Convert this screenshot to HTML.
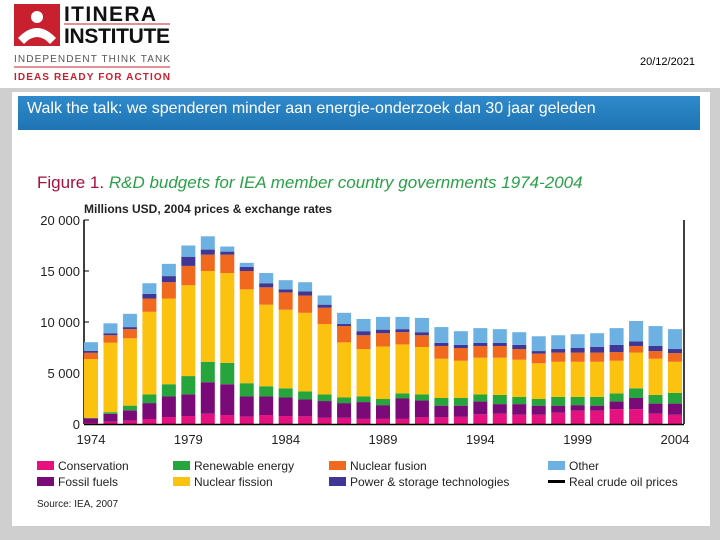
<!DOCTYPE html>
<html><head><meta charset="utf-8"><style>
body{margin:0;width:720px;height:540px;background:#fff;position:relative;overflow:hidden;font-family:"Liberation Sans",sans-serif}
.abs{position:absolute}
</style></head><body>
<div class="abs" style="left:12px;top:0;width:165px;height:82px">
 <svg width="165" height="82">
  <rect x="2" y="4" width="46" height="42" fill="#c9202f"/>
  <circle cx="25" cy="17" r="6" fill="#fff"/>
  <path d="M6 38 Q25 18 44 38 L38 44 Q25 30 12 44 Z" fill="#fff"/>
  <text x="52" y="21" font-size="21" font-weight="bold" font-family="Liberation Sans" fill="#111" textLength="92">ITINERA</text>
  <text x="52" y="43" font-size="21" font-weight="bold" font-family="Liberation Sans" fill="#111" textLength="106">INSTITUTE</text>
  <line x1="52" y1="24" x2="158" y2="24" stroke="#c9202f" stroke-width="1"/>
  <text x="2" y="62" font-size="10" fill="#555" textLength="156">INDEPENDENT THINK TANK</text>
  <line x1="2" y1="67" x2="158" y2="67" stroke="#c9202f"/>
  <text x="2" y="80" font-size="10" font-weight="bold" fill="#c9202f" textLength="156">IDEAS READY FOR ACTION</text>
 </svg>
</div>
<div class="abs" style="left:640px;top:56px;font-size:11px;color:#000">20/12/2021</div>
<div class="abs" style="left:0;top:88px;width:720px;height:452px;background:#cfcfcf"></div>
<div class="abs" style="left:12px;top:92px;width:698px;height:434px;background:#fff"></div>
<div class="abs" style="left:18px;top:96px;width:682px;height:34px;background:linear-gradient(#2f8acb,#1f74b3);color:#fff;font-size:16px;line-height:26px;padding-left:9px;box-sizing:border-box">Walk the talk: we spenderen minder aan energie-onderzoek dan 30 jaar geleden</div>
<div class="abs" style="left:37px;top:173px;font-size:17px;white-space:nowrap"><span style="color:#a3123a">Figure 1.</span> <i style="color:#2aa048">R&amp;D budgets for IEA member country governments 1974-2004</i></div>
<div class="abs" style="left:84px;top:202px;font-size:12px;font-weight:bold;color:#222">Millions USD, 2004 prices &amp; exchange rates</div>
<svg class="abs" id="chart" style="left:0;top:0" width="720" height="540"></svg>
<div class="abs" style="left:37px;top:499px;font-size:10px;color:#222">Source: IEA, 2007</div>
<script>
const years=[1974,1975,1976,1977,1978,1979,1980,1981,1982,1983,1984,1985,1986,1987,1988,1989,1990,1991,1992,1993,1994,1995,1996,1997,1998,1999,2000,2001,2002,2003,2004];
const conservation=[100,220,330,490,680,780,1000,880,720,880,780,750,600,600,500,500,500,650,650,700,950,1000,900,900,1100,1300,1300,1450,1450,1000,900];
const fossil=[460,780,1010,1560,2020,2120,3100,3020,1980,1820,1820,1650,1650,1450,1650,1350,2000,1650,1150,1100,1250,950,1050,900,700,550,500,750,1100,1000,1100];
const renewable=[40,160,460,850,1200,1800,2000,2100,1300,1000,900,800,650,550,550,600,500,600,750,750,700,900,700,650,850,800,850,800,950,850,1050];
const fission=[5770,6810,6600,8100,8400,8900,8900,8800,9200,8000,7700,7700,6900,5400,4650,5150,4800,4650,3850,3650,3600,3650,3650,3500,3450,3450,3450,3200,3500,3550,3050];
const fusion=[610,730,900,1300,1600,1900,1600,1800,1800,1700,1700,1700,1600,1600,1350,1300,1200,1150,1250,1250,1150,1150,1050,950,900,900,900,850,650,750,850];
const power=[190,200,200,450,600,900,500,300,400,400,300,400,300,200,400,350,300,300,300,300,300,300,400,250,350,450,550,700,450,500,400];
const other=[850,970,1300,1050,1200,1100,1300,500,400,1000,900,900,900,1100,1200,1250,1200,1400,1550,1350,1450,1350,1250,1450,1350,1350,1350,1650,2000,1950,1950];
const yTicks=[0,5000,10000,15000,20000];
const yTickLabels=["0","5 000","10 000","15 000","20 000"];
const xTickYears=[1974,1979,1984,1989,1994,1999,2004];
const seriesNames=["Conservation","Fossil fuels","Renewable energy","Nuclear fission","Nuclear fusion","Power & storage technologies","Other"];
const NS="http://www.w3.org/2000/svg";
const svg=document.getElementById('chart');
function y(v){return 424-v*(204/20000);}
function x(yr){return 91+(yr-1974)*(584/30);}
function mk(t,a,p){const e=document.createElementNS(NS,t);for(const k in a)e.setAttribute(k,a[k]);(p||svg).appendChild(e);return e;}
const series=[conservation,fossil,renewable,fission,fusion,power,other];
const colors=["#e5117e","#7a0a78","#27a53d","#fcc210","#f1681f","#3f3696","#6cb1e1"];
const keys=["conservation","fossil-fuels","renewable-energy","nuclear-fission","nuclear-fusion","power-storage","other"];
let ax=mk('line',{x1:84,y1:220,x2:84,y2:424,stroke:'#000','stroke-width':1.5});


let rx=mk('line',{x1:684,y1:220,x2:684,y2:424,stroke:'#000','stroke-width':1.5});


yTicks.forEach((v,i)=>{
 const tk=mk('line',{x1:84,x2:89,y1:y(v),y2:y(v),stroke:'#000'});
 
 
 const t=mk('text',{x:80,y:y(v)+5,'text-anchor':'end','font-size':13,fill:'#222','font-family':'Liberation Sans'});
 t.textContent=yTickLabels[i];
 
 
});
years.forEach((yr,i)=>{
 let c=0;
 series.forEach((s,k)=>{
  const r=mk('rect',{x:x(yr)-7,y:y(c+s[i]),width:14,height:y(c)-y(c+s[i]),fill:colors[k]});
  
  
  c+=s[i];
 });
});
let bx=mk('line',{x1:84,y1:424.5,x2:684,y2:424.5,stroke:'#000','stroke-width':1.5});


xTickYears.forEach(yr=>{
 const t=mk('text',{x:x(yr),y:444,'text-anchor':'middle','font-size':13,fill:'#222','font-family':'Liberation Sans'});
 t.textContent=yr;
 
 
});
const lx=[37,173,329,548];
const leg=[[0,1],[2,3],[4,5],[6,-1]];
leg.forEach((col,ci)=>{col.forEach((k,ri)=>{
 const yy=460+ri*16;
 const g=mk('g',{});
 
 
 if(k>=0) mk('rect',{x:lx[ci],y:yy+1,width:17,height:9,fill:colors[k]},g);
 else mk('rect',{x:lx[ci],y:yy+4,width:17,height:3,fill:'#000'},g);
 const t=mk('text',{x:lx[ci]+21,y:yy+10,'font-size':12,fill:'#222','font-family':'Liberation Sans'},g);
 t.textContent=k>=0?seriesNames[k]:'Real crude oil prices';
});});
</script>
</body></html>
